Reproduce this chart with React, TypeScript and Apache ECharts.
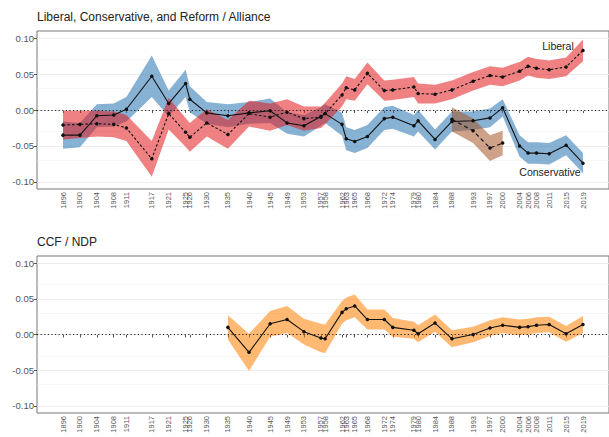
import { useEffect, useRef } from "react";
import * as echarts from "echarts";

const years = [1896, 1900, 1904, 1908, 1911, 1917, 1921, 1925, 1926, 1930, 1935, 1940, 1945, 1949, 1953, 1957, 1958, 1962, 1963, 1965, 1968, 1972, 1974, 1979, 1980, 1984, 1988, 1993, 1997, 2000, 2004, 2006, 2008, 2011, 2015, 2019];

const conservative = [-0.035, -0.035, -0.008, -0.007, 0.001, 0.047, 0.009, 0.037, 0.015, -0.004, -0.008, -0.004, -0.001, -0.018, -0.022, -0.009, -0.005, -0.020, -0.040, -0.044, -0.037, -0.012, -0.010, -0.022, -0.015, -0.041, -0.016, -0.015, -0.011, 0.003, -0.050, -0.060, -0.060, -0.061, -0.049, -0.074];
const conservativeHalf = [0.019, 0.017, 0.016, 0.016, 0.017, 0.029, 0.018, 0.019, 0.018, 0.015, 0.016, 0.015, 0.017, 0.015, 0.015, 0.013, 0.013, 0.016, 0.016, 0.016, 0.016, 0.016, 0.016, 0.015, 0.015, 0.014, 0.014, 0.013, 0.013, 0.012, 0.015, 0.015, 0.015, 0.015, 0.014, 0.014];

const liberal = [-0.021, -0.020, -0.019, -0.020, -0.025, -0.068, -0.005, -0.031, -0.038, -0.018, -0.034, -0.005, -0.010, -0.003, -0.012, -0.010, -0.005, 0.021, 0.031, 0.028, 0.051, 0.027, 0.028, 0.032, 0.023, 0.022, 0.028, 0.040, 0.048, 0.046, 0.054, 0.061, 0.058, 0.056, 0.060, 0.083];
const liberalHalf = [0.020, 0.019, 0.018, 0.018, 0.018, 0.025, 0.022, 0.020, 0.020, 0.019, 0.020, 0.018, 0.019, 0.018, 0.017, 0.015, 0.015, 0.016, 0.016, 0.015, 0.015, 0.014, 0.014, 0.014, 0.014, 0.013, 0.013, 0.013, 0.013, 0.013, 0.013, 0.013, 0.013, 0.013, 0.013, 0.015];

const reformYears = [1988, 1993, 1997, 2000];
const reform = [-0.013, -0.029, -0.053, -0.046];
const reformHalf = [0.017, 0.017, 0.018, 0.017];

const ndpYears = [1935, 1940, 1945, 1949, 1953, 1957, 1958, 1962, 1963, 1965, 1968, 1972, 1974, 1979, 1980, 1984, 1988, 1993, 1997, 2000, 2004, 2006, 2008, 2011, 2015, 2019];
const ndp = [0.010, -0.025, 0.015, 0.021, 0.004, -0.005, -0.006, 0.031, 0.036, 0.040, 0.021, 0.021, 0.010, 0.006, 0.001, 0.016, -0.006, 0.000, 0.009, 0.013, 0.010, 0.011, 0.013, 0.014, 0.001, 0.014];
const ndpHalf = [0.017, 0.026, 0.018, 0.019, 0.018, 0.020, 0.020, 0.016, 0.016, 0.016, 0.014, 0.014, 0.013, 0.012, 0.012, 0.012, 0.012, 0.011, 0.011, 0.011, 0.011, 0.011, 0.011, 0.011, 0.011, 0.012];

const yTickValues = [-0.1, -0.05, 0, 0.05, 0.1];
const yGridValues = [-0.1, -0.075, -0.05, -0.025, 0, 0.025, 0.05, 0.075, 0.1];

const FONT = "Liberation Sans, Arial, Helvetica, sans-serif";

function ribbon(xs: number[], mid: number[], half: number[], color: string, axis: number, extra: any = {}) {
  const rows = xs.map((x, i) => [x, +(mid[i] - half[i]).toFixed(4), +(mid[i] + half[i]).toFixed(4)]);
  return {
    type: "custom",
    xAxisIndex: axis,
    yAxisIndex: axis,
    data: [[xs[0], mid[0]]],
    silent: true,
    z: 2,
    renderItem: (_params: any, api: any) => {
      const upper = rows.map((r) => api.coord([r[0], r[2]]));
      const lower = rows.map((r) => api.coord([r[0], r[1]])).reverse();
      return {
        type: "polygon",
        shape: { points: upper.concat(lower) },
        style: { fill: color, stroke: "none" },
      };
    },
    ...extra,
  };
}

function gridMarkLine() {
  return {
    silent: true,
    symbol: ["none", "none"],
    label: { show: false },
    z: 1,
    data: yGridValues.map((v) => ({
      yAxis: v,
      lineStyle: { color: "#ebebeb", width: Math.abs((v * 1000) % 50) < 1e-6 ? 0.9 : 0.5, type: "solid" },
    })),
  };
}

function zeroMarkLine() {
  return {
    silent: true,
    symbol: ["none", "none"],
    label: { show: false },
    z: 5,
    lineStyle: { color: "#222", width: 1, type: [1.2, 2.4] },
    data: [{ yAxis: 0 }],
  };
}

function line(xs: number[], ys: number[], axis: number, dash: any, extra: any = {}) {
  return {
    type: "line",
    xAxisIndex: axis,
    yAxisIndex: axis,
    data: xs.map((x, i) => [x, ys[i]]),
    symbol: "circle",
    symbolSize: 3.5,
    showSymbol: true,
    lineStyle: { color: "#111", width: 1.1, type: dash },
    itemStyle: { color: "#111" },
    silent: true,
    z: 4,
    ...extra,
  };
}

function xAxis(gridIndex: number) {
  return {
    type: "value",
    gridIndex,
    min: 1889.85,
    max: 2025.15,
    axisLine: { show: false },
    splitLine: { show: false },
    axisTick: { show: true, length: 3, lineStyle: { color: "#555" }, customValues: years },
    axisLabel: {
      customValues: years,
      rotate: 90,
      fontSize: 7.5,
      color: "#555",
      margin: 3,
      fontFamily: FONT,
      formatter: (v: number) => String(v),
    },
  };
}

function yAxis(gridIndex: number) {
  return {
    type: "value",
    gridIndex,
    min: -0.11,
    max: 0.11,
    axisLine: { show: false },
    splitLine: { show: false },
    axisTick: { show: true, length: 3, lineStyle: { color: "#555" }, customValues: yTickValues },
    axisLabel: {
      customValues: yTickValues,
      fontSize: 9.5,
      color: "#555",
      margin: 3,
      fontFamily: FONT,
      formatter: (v: number) => v.toFixed(2),
    },
  };
}

export default function App() {
  const ref = useRef<HTMLDivElement>(null);
  useEffect(() => {
    const chart = echarts.init(ref.current!, null, { renderer: "svg" });
    const option: any = {
      animation: false,
      backgroundColor: "#ffffff",
      title: [
        {
          text: "Liberal, Conservative, and Reform / Alliance",
          left: 37,
          top: 11,
          padding: 0,
          textStyle: { fontSize: 12, fontWeight: "normal", color: "#222", fontFamily: FONT },
        },
        {
          text: "CCF / NDP",
          left: 37,
          top: 236,
          padding: 0,
          textStyle: { fontSize: 12, fontWeight: "normal", color: "#222", fontFamily: FONT },
        },
      ],
      grid: [
        { left: 37, top: 31, width: 582, height: 158, show: true, borderColor: "#777", borderWidth: 1, backgroundColor: "transparent" },
        { left: 37, top: 256, width: 582, height: 157, show: true, borderColor: "#777", borderWidth: 1, backgroundColor: "transparent" },
      ],
      xAxis: [xAxis(0), xAxis(1)],
      yAxis: [yAxis(0), yAxis(1)],
      graphic: [
        {
          type: "text",
          x: 558,
          y: 46,
          style: { text: "Liberal", fontSize: 10.5, fontFamily: FONT, fill: "#222", align: "center", verticalAlign: "middle" },
        },
        {
          type: "text",
          x: 550,
          y: 172,
          style: { text: "Conservative", fontSize: 10.5, fontFamily: FONT, fill: "#222", align: "center", verticalAlign: "middle" },
        },
      ],
      series: [
        ribbon(years, conservative, conservativeHalf, "rgba(55,126,184,0.6)", 0),
        ribbon(years, liberal, liberalHalf, "rgba(228,26,28,0.55)", 0),
        ribbon(reformYears, reform, reformHalf, "rgba(166,86,40,0.55)", 0),
        line(years, conservative, 0, "solid", { markLine: zeroMarkLine() }),
        line(years, liberal, 0, [2.5, 2], { markLine: gridMarkLine() }),
        line(reformYears, reform, 0, [4, 3]),
        ribbon(ndpYears, ndp, ndpHalf, "rgba(255,127,0,0.55)", 1),
        line(ndpYears, ndp, 1, "solid", { markLine: zeroMarkLine() }),
        line(ndpYears, ndp, 1, "solid", { markLine: gridMarkLine(), lineStyle: { opacity: 0 }, symbol: "none", z: 1 }),
      ],
    };
    chart.setOption(option);
    return () => chart.dispose();
  }, []);
  return <div ref={ref} style={{ position: "absolute", left: 0, top: 0, width: 609, height: 437 }} />;
}
